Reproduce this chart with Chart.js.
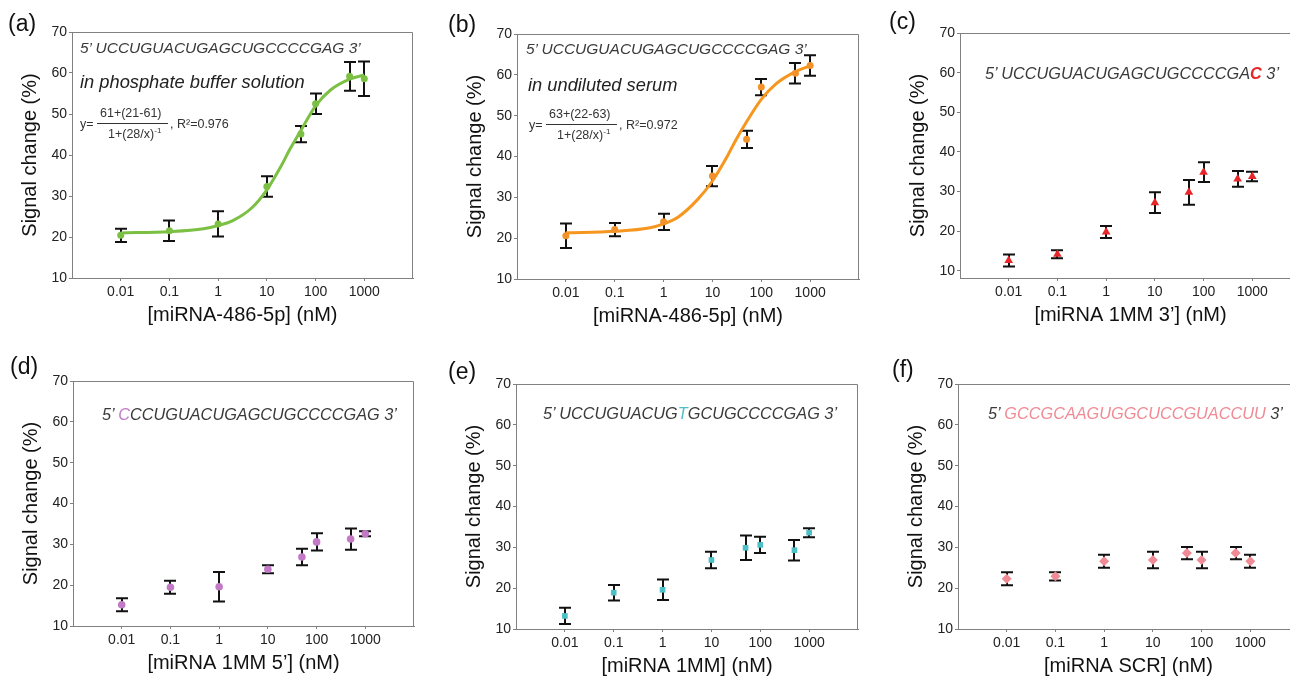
<!DOCTYPE html>
<html>
<head>
<meta charset="utf-8">
<title>Signal change vs miRNA concentration</title>
<script src="https://cdn.jsdelivr.net/npm/chart.js@4.4.1/dist/chart.umd.min.js"></script>
<style>
  html, body { margin: 0; padding: 0; width: 1290px; height: 676px; overflow: hidden; background: #fff; }
  body { position: relative; font-family: 'Liberation Sans', Arial, sans-serif; color: #222; }
  canvas { position: absolute; }
  .lbl { position: absolute; font-size: 23px; line-height: 1; white-space: nowrap; color: #111; }
  .seq { position: absolute; font-style: italic; color: #3a3a3a; white-space: nowrap; line-height: 1; }
  .cond { position: absolute; font-style: italic; color: #222; font-size: 18.3px; line-height: 1; white-space: nowrap; }
  .eq { position: absolute; font-size: 12.5px; line-height: 1; white-space: nowrap; color: #333; }
  .eq sup { font-size: 8px; vertical-align: 5px; }
  .bar { position: absolute; height: 1px; background: #333; }
</style>
</head>
<body>
<canvas id="pa"></canvas>
<canvas id="pb"></canvas>
<canvas id="pc"></canvas>
<canvas id="pd"></canvas>
<canvas id="pe"></canvas>
<canvas id="pf"></canvas>

<div class="lbl" style="left:8px;top:12px">(a)</div>
<div class="lbl" style="left:448px;top:13px">(b)</div>
<div class="lbl" style="left:889px;top:10px">(c)</div>
<div class="lbl" style="left:10px;top:355px">(d)</div>
<div class="lbl" style="left:448px;top:360px">(e)</div>
<div class="lbl" style="left:892px;top:358px">(f)</div>

<div class="seq" style="left:80px;top:40px;font-size:15.5px">5’ UCCUGUACUGAGCUGCCCCGAG 3’</div>
<div class="cond" style="left:80px;top:73px">in phosphate buffer solution</div>
<div class="eq" style="left:80px;top:118px">y=</div>
<div class="eq" style="left:100px;top:107px">61+(21-61)</div>
<div class="bar" style="left:97px;top:123px;width:71px"></div>
<div class="eq" style="left:108px;top:127px">1+(28/x)<sup>-1</sup></div>
<div class="eq" style="left:170px;top:118px">, R²=0.976</div>

<div class="seq" style="left:526px;top:41px;font-size:15.5px">5’ UCCUGUACUGAGCUGCCCCGAG 3’</div>
<div class="cond" style="left:528px;top:76px">in undiluted serum</div>
<div class="eq" style="left:529px;top:119px">y=</div>
<div class="eq" style="left:549px;top:108px">63+(22-63)</div>
<div class="bar" style="left:546px;top:124px;width:71px"></div>
<div class="eq" style="left:557px;top:128px">1+(28/x)<sup>-1</sup></div>
<div class="eq" style="left:619px;top:119px">, R²=0.972</div>

<div class="seq" style="left:985px;top:65px;font-size:16.3px">5’ UCCUGUACUGAGCUGCCCCGA<b style="color:#e8262a">C</b> 3’</div>
<div class="seq" style="left:102px;top:406px;font-size:16.3px">5’ <span style="color:#c27ac6">C</span>CCUGUACUGAGCUGCCCCGAG 3’</div>
<div class="seq" style="left:543px;top:405px;font-size:16.3px">5’ UCCUGUACUG<span style="color:#4dbfc6">T</span>GCUGCCCCGAG 3’</div>
<div class="seq" style="left:988px;top:405px;font-size:16.3px">5’ <span style="color:#f08a94">GCCGCAAGUGGCUCCGUACCUU</span> 3’</div>

<script>
'use strict';

/* ---- Data ---- */
const concentrations = [0.01, 0.1, 1, 10, 50, 100, 500, 1000];
const xTickValues = [0.01, 0.1, 1, 10, 100, 1000];
const xTickLabels = ['0.01', '0.1', '1', '10', '100', '1000'];
const yTickValues = [10, 20, 30, 40, 50, 60, 70];

// (a) miRNA-486-5p in phosphate buffer
const bufferMean = [20.4, 21.5, 23.2, 32.3, 45.1, 52.5, 59.2, 58.6];
const bufferErr = [1.6, 2.5, 3.1, 2.5, 2.0, 2.5, 3.5, 4.2];
const bufferFitX = [0.01, 0.1, 0.5, 1, 2, 5, 10, 20, 30, 50, 100, 200, 500, 1000];
const bufferFitY = [21.0, 21.3, 22.0, 22.8, 24.0, 27.2, 31.5, 37.5, 41.5, 46.0, 52.0, 55.8, 58.5, 59.5];

// (b) miRNA-486-5p in serum
const serumMean = [20.6, 22.1, 24.0, 35.2, 44.2, 57.0, 60.4, 62.3];
const serumErr = [3.0, 1.6, 2.0, 2.5, 2.1, 2.0, 2.5, 2.5];
const serumFitX = [0.01, 0.1, 0.5, 1, 2, 5, 10, 20, 30, 50, 100, 200, 500, 1000];
const serumFitY = [21.3, 21.7, 22.5, 23.5, 25.2, 29.5, 34.0, 40.0, 44.0, 48.5, 54.0, 57.8, 60.8, 62.2];

// (c) 1MM 3'
const mm3Mean = [12.6, 14.2, 19.8, 27.2, 29.8, 34.9, 33.2, 33.8];
const mm3Err = [1.5, 1.0, 1.5, 2.6, 3.1, 2.5, 2.0, 1.2];

// (d) 1MM 5'
const mm5Mean = [15.2, 19.5, 19.6, 23.9, 26.9, 30.6, 31.3, 32.6];
const mm5Err = [1.6, 1.6, 3.6, 1.0, 2.0, 2.1, 2.6, 0.6];

// (e) 1MM middle
const mmMidMean = [13.2, 18.9, 19.6, 26.9, 29.9, 30.6, 29.3, 33.6];
const mmMidErr = [2.0, 1.9, 2.5, 2.0, 3.0, 2.0, 2.5, 1.1];

// (f) scrambled
const scrMean = [22.3, 22.9, 26.6, 26.9, 28.6, 26.9, 28.6, 26.6];
const scrErr = [1.6, 1.0, 1.6, 2.0, 1.5, 2.0, 1.5, 1.6];

/* ---- Layout ---- */
const YW = 72, TOP = 20, RIGHT = 10, XH = 60;
const FRAME = '#808080';

/* ---- Plugins ---- */
const errorBarPlugin = {
  id: 'errorBars',
  beforeDatasetsDraw(chart) {
    const { ctx, scales: { x, y } } = chart;
    ctx.save();
    ctx.strokeStyle = '#111';
    ctx.lineWidth = 2;
    chart.data.datasets.forEach(ds => {
      if (!ds.errors) return;
      ds.data.forEach((p, i) => {
        const px = Math.round(x.getPixelForValue(p.x));
        const top = y.getPixelForValue(p.y + ds.errors[i]);
        const bot = y.getPixelForValue(p.y - ds.errors[i]);
        ctx.beginPath();
        ctx.moveTo(px, top); ctx.lineTo(px, bot);
        ctx.moveTo(px - 6, top); ctx.lineTo(px + 6, top);
        ctx.moveTo(px - 6, bot); ctx.lineTo(px + 6, bot);
        ctx.stroke();
      });
    });
    ctx.restore();
  }
};

const framePlugin = {
  id: 'frame',
  beforeDatasetsDraw(chart) {
    const { ctx, chartArea: a } = chart;
    ctx.save();
    ctx.strokeStyle = FRAME;
    ctx.lineWidth = 1;
    ctx.beginPath();
    ctx.moveTo(a.left, a.top + 0.5);
    ctx.lineTo(a.right - 0.5, a.top + 0.5);
    ctx.lineTo(a.right - 0.5, a.bottom);
    ctx.stroke();
    ctx.restore();
  }
};

function points(xs, ys) {
  return xs.map((x, i) => ({ x, y: ys[i] }));
}

function pointSet(ys, errs, color, style, radius) {
  return {
    data: points(concentrations, ys),
    errors: errs,
    pointStyle: style,
    pointRadius: radius,
    pointBackgroundColor: color,
    pointBorderWidth: 0,
    showLine: false
  };
}

function fitSet(xs, ys, color) {
  return {
    data: points(xs, ys),
    showLine: true,
    borderColor: color,
    borderWidth: 3,
    pointRadius: 0,
    cubicInterpolationMode: 'monotone'
  };
}

function makePanel(id, frame, yMin, xTitle, datasets) {
  const canvas = document.getElementById(id);
  const w = frame.r - frame.l + YW + RIGHT;
  const h = frame.b - frame.t + TOP + XH;
  canvas.width = w;
  canvas.height = h;
  canvas.style.left = (frame.l - YW) + 'px';
  canvas.style.top = (frame.t - TOP) + 'px';
  canvas.style.width = w + 'px';
  canvas.style.height = h + 'px';

  const axisGrid = { drawOnChartArea: false, drawTicks: true, tickLength: 3, color: FRAME };
  const axisBorder = { display: true, color: FRAME, width: 1 };

  new Chart(canvas, {
    type: 'scatter',
    data: { datasets },
    plugins: [framePlugin, errorBarPlugin],
    options: {
      responsive: false,
      animation: false,
      devicePixelRatio: 1,
      layout: { padding: { left: 0, top: TOP, right: RIGHT, bottom: 0 } },
      plugins: { legend: { display: false }, tooltip: { enabled: false } },
      scales: {
        x: {
          type: 'logarithmic',
          min: 0.001,
          max: 10000,
          afterBuildTicks: s => { s.ticks = xTickValues.map(v => ({ value: v })); },
          afterFit: s => { s.height = XH; },
          ticks: {
            autoSkip: false, maxRotation: 0, padding: 3, color: '#222',
            font: { size: 14, family: "'Liberation Sans', Arial, sans-serif" },
            callback: v => xTickLabels[xTickValues.indexOf(v)]
          },
          grid: axisGrid,
          border: axisBorder,
          title: {
            display: true, text: xTitle, color: '#111',
            font: { size: 20, family: "'Liberation Sans', Arial, sans-serif" },
            padding: { top: 0, bottom: 11 }
          }
        },
        y: {
          min: yMin,
          max: 70,
          afterBuildTicks: s => { s.ticks = yTickValues.map(v => ({ value: v })); },
          afterFit: s => { s.width = YW; },
          ticks: {
            padding: 2, color: '#222',
            font: { size: 14, family: "'Liberation Sans', Arial, sans-serif" }
          },
          grid: axisGrid,
          border: axisBorder,
          title: {
            display: true, text: 'Signal change (%)', color: '#111',
            font: { size: 20, family: "'Liberation Sans', Arial, sans-serif" },
            padding: { top: 18, bottom: 0 }
          }
        }
      }
    }
  });
}

/* ---- Init All ---- */
document.addEventListener('DOMContentLoaded', () => {
  makePanel('pa', { l: 72, r: 413, t: 32, b: 278 }, 10, '[miRNA-486-5p] (nM)', [
    pointSet(bufferMean, bufferErr, '#7bc043', 'circle', 3.5),
    fitSet(bufferFitX, bufferFitY, '#7bc043')
  ]);
  makePanel('pb', { l: 517, r: 859, t: 34, b: 279 }, 10, '[miRNA-486-5p] (nM)', [
    pointSet(serumMean, serumErr, '#f3922a', 'circle', 3.5),
    fitSet(serumFitX, serumFitY, '#f7961e')
  ]);
  makePanel('pc', { l: 960, r: 1301, t: 33, b: 278 }, 8.2, '[miRNA 1MM 3’] (nM)', [
    pointSet(mm3Mean, mm3Err, '#e8262a', 'triangle', 5)
  ]);
  makePanel('pd', { l: 73, r: 414, t: 381, b: 626 }, 10, '[miRNA 1MM 5’] (nM)', [
    pointSet(mm5Mean, mm5Err, '#c27ac6', 'circle', 3.8)
  ]);
  makePanel('pe', { l: 516, r: 858, t: 384, b: 629 }, 10, '[miRNA 1MM] (nM)', [
    pointSet(mmMidMean, mmMidErr, '#4dbfc6', 'rect', 4)
  ]);
  makePanel('pf', { l: 958, r: 1299, t: 384, b: 629 }, 10, '[miRNA SCR] (nM)', [
    pointSet(scrMean, scrErr, '#f08a94', 'rectRot', 5)
  ]);
});
</script>
</body>
</html>
